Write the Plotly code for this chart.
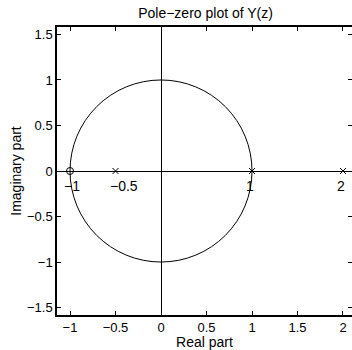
import plotly.graph_objects as go

zeros_re = [-1.0]
zeros_im = [0.0]
poles_re = [-0.5, 1.0, 2.0]
poles_im = [0.0, 0.0, 0.0]
point_labels = ["\u22121", "\u22120.5", "1", "2"]
label_x = [-1.0, -0.5, 1.0, 2.0]
x_ticks = [-1, -0.5, 0, 0.5, 1, 1.5, 2]
y_ticks = [-1.5, -1, -0.5, 0, 0.5, 1, 1.5]

FONT = "Liberation Sans, Arial, Helvetica, sans-serif"

fig = go.Figure()
fig.add_trace(go.Scatter(x=zeros_re, y=zeros_im, mode="markers", cliponaxis=False,
                         marker=dict(symbol="circle-open", size=7, color="black",
                                     line=dict(width=1, color="black")),
                         showlegend=False, hoverinfo="skip"))
fig.add_trace(go.Scatter(x=poles_re, y=poles_im, mode="markers", cliponaxis=False,
                         marker=dict(symbol="x-thin-open", size=6, color="black",
                                     line=dict(width=1, color="black")),
                         showlegend=False, hoverinfo="skip"))

fig.add_shape(type="circle", xref="x", yref="y", x0=-1, y0=-1, x1=1, y1=1,
              line=dict(color="black", width=1), layer="above")

for t, xv in zip(point_labels, label_x):
    fig.add_annotation(x=xv, y=0, text=t, showarrow=False, xanchor="left",
                       yanchor="middle", xshift=-8, yshift=-15,
                       font=dict(family=FONT, size=14, color="black"))

axis_common = dict(showgrid=False, zeroline=True, zerolinecolor="black", zerolinewidth=1,
                   showline=True, linecolor="black", linewidth=1.5, mirror="ticks",
                   ticks="inside", ticklen=4, tickcolor="black", tickwidth=1,
                   automargin=False,
                   tickfont=dict(family=FONT, size=13, color="black"))

fig.update_layout(
    width=352, height=350,
    margin=dict(l=57, r=0, t=27, b=35),
    paper_bgcolor="white", plot_bgcolor="white",
    title=dict(text="Pole\u2212zero plot of Y(z)", x=0.584, xanchor="center",
               y=0.964, yanchor="middle", xref="container", yref="container",
               font=dict(family=FONT, size=14, color="black")),
    xaxis=dict(range=[-1.143, 2.099], tickvals=x_ticks,
               title=dict(text="Real part", standoff=0,
                          font=dict(family=FONT, size=14, color="black")),
               **axis_common),
    yaxis=dict(range=[-1.582, 1.582], tickvals=y_ticks,
               title=dict(text="Imaginary part", standoff=2,
                          font=dict(family=FONT, size=14, color="black")),
               **axis_common),
)

fig.write_html("out.html", config={"displayModeBar": False},
               post_script="document.body.style.margin='0';document.body.style.overflow='hidden';")
